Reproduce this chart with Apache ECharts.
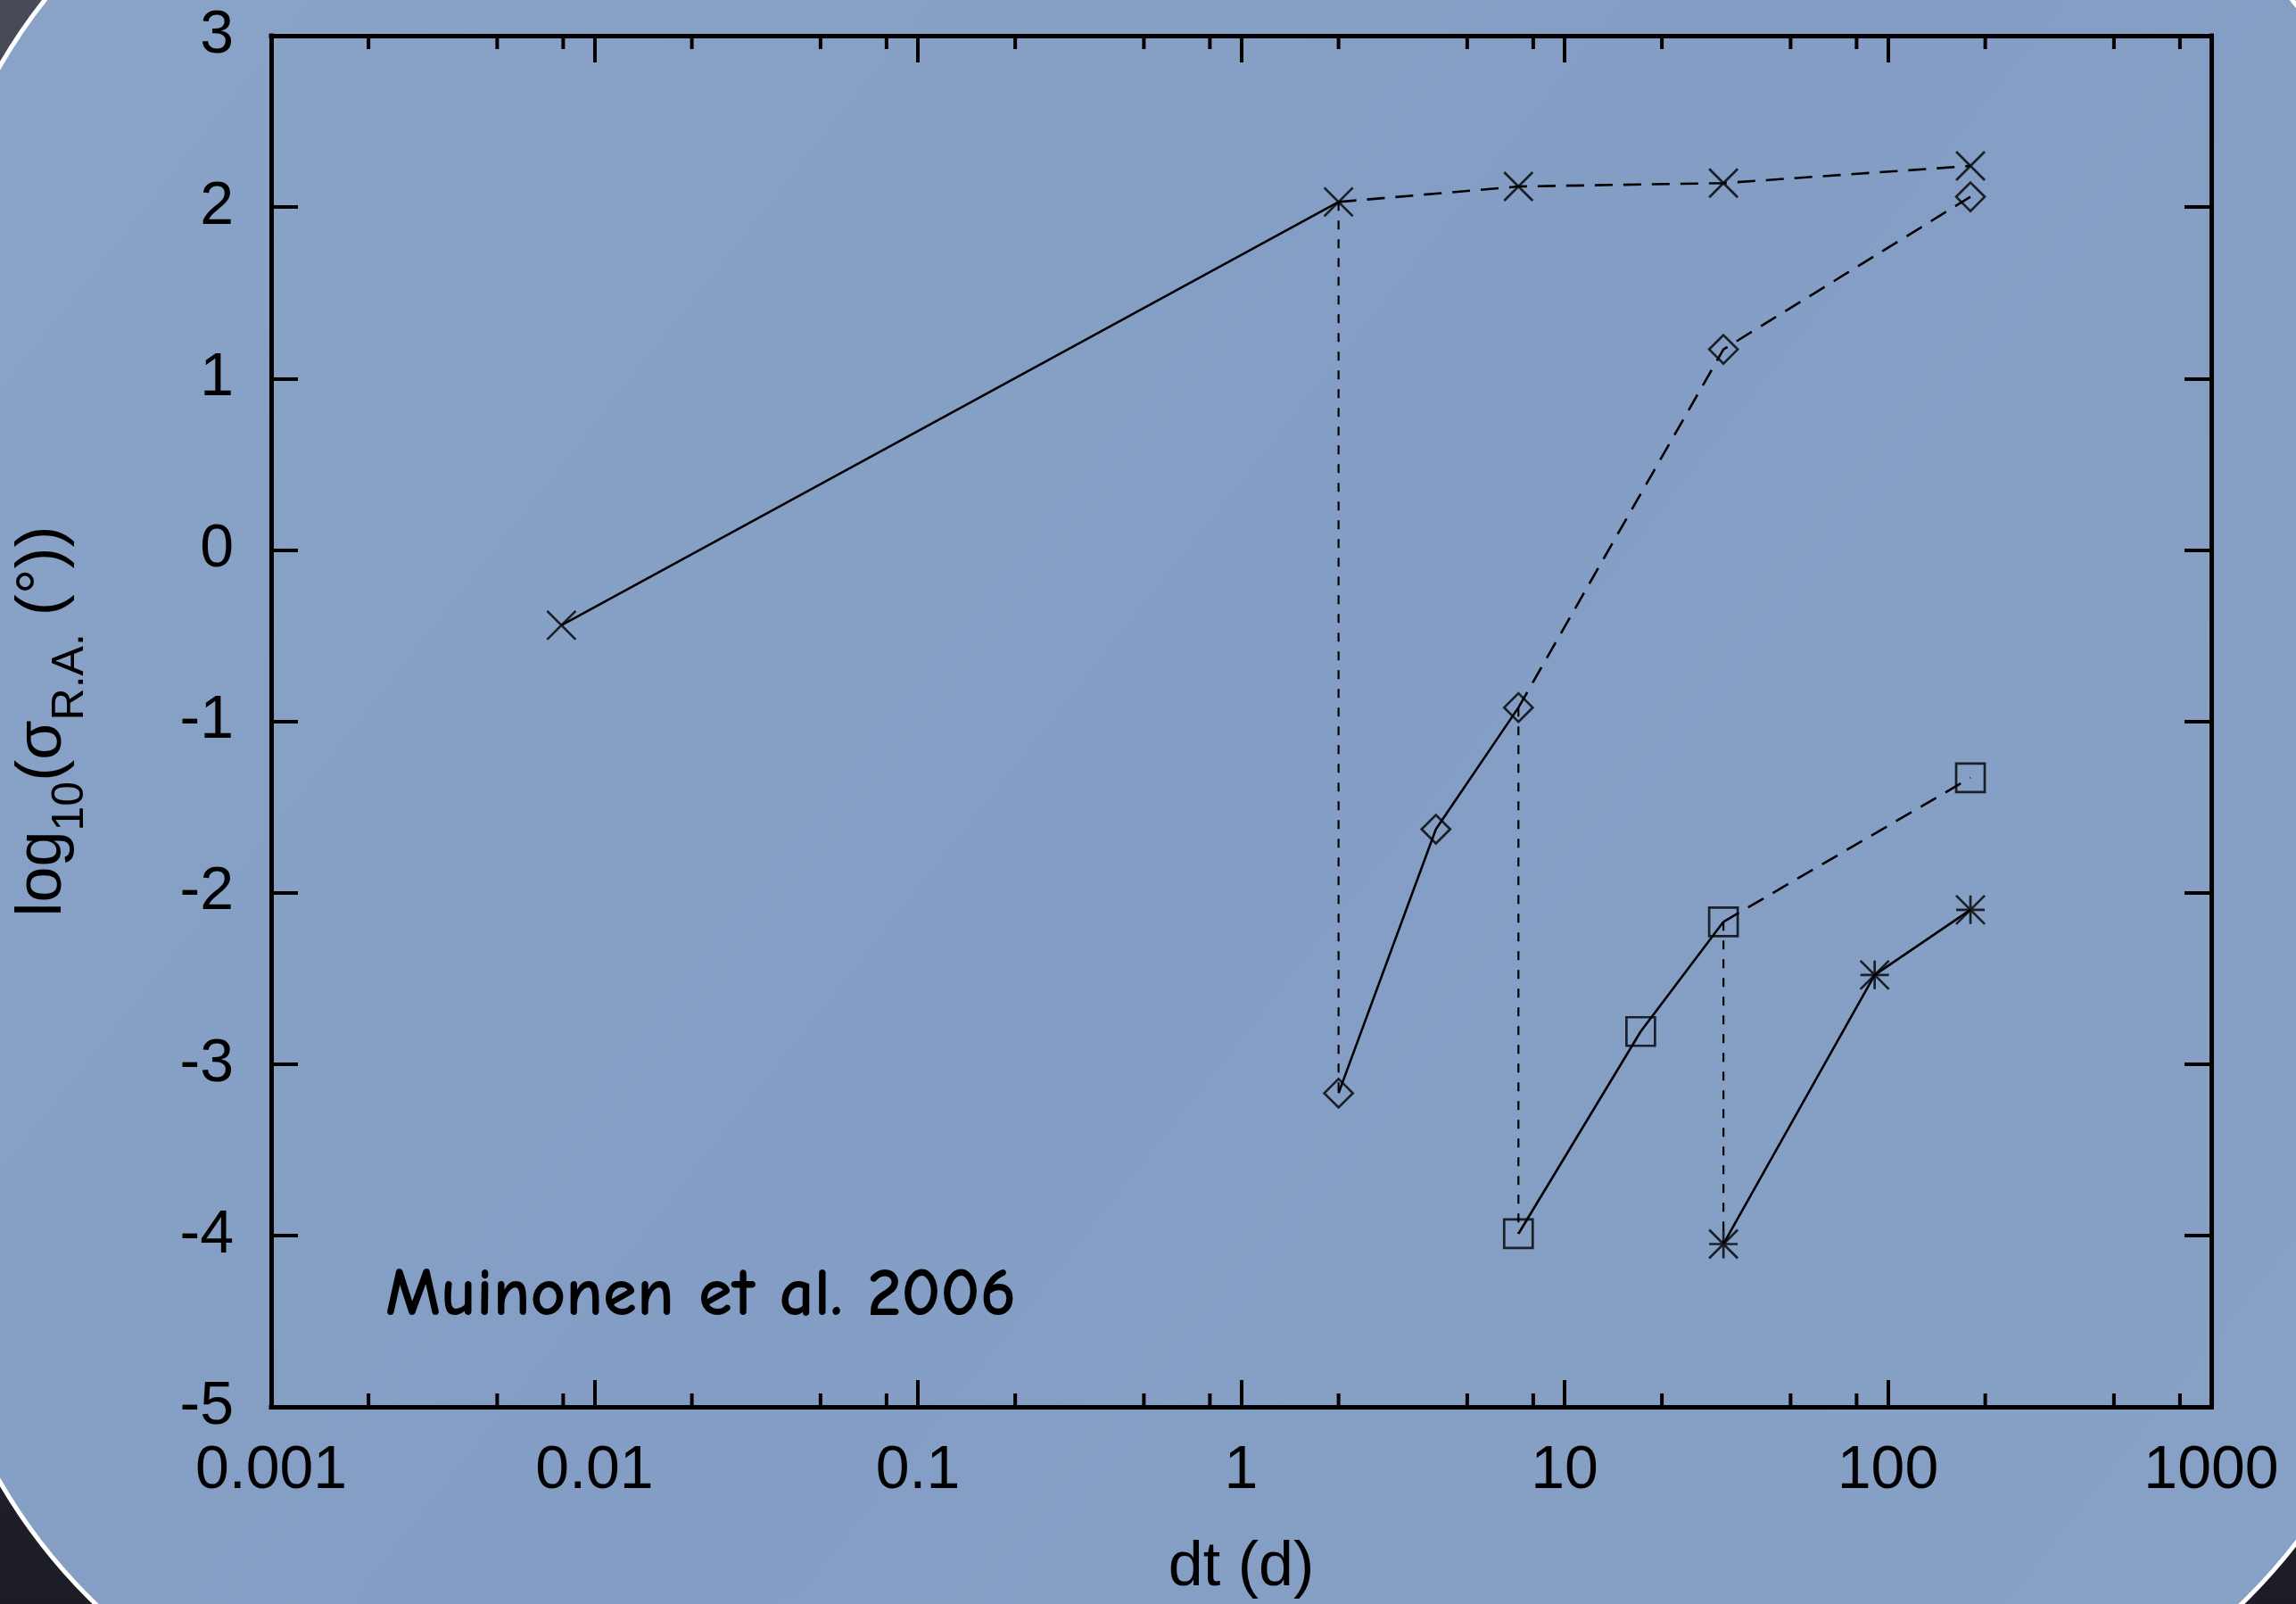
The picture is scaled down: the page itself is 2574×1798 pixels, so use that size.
<!DOCTYPE html>
<html>
<head>
<meta charset="utf-8">
<script src="https://cdn.jsdelivr.net/npm/echarts@6/dist/echarts.min.js"></script>
<style>
  html, body { margin: 0; padding: 0; width: 2574px; height: 1798px; overflow: hidden;
    background: linear-gradient(180deg, #484b58 0%, #30323d 45%, #1c1c26 100%); }
  #chart { width: 2574px; height: 1798px; }
</style>
</head>
<body>
<div id="chart"></div>
<script>
// dt (days) and log10 of the R.A. uncertainty for each observing-arc family
const dtCross = [0.0079, 2, 7.2, 31, 180];
const logCross = [-0.44, 2.03, 2.12, 2.14, 2.24];
const dtDiamond = [2, 4, 7.2, 31, 180];
const logDiamond = [-3.17, -1.63, -0.92, 1.17, 2.06];
const dtSquare = [7.2, 17.2, 31, 180];
const logSquare = [-3.99, -2.81, -2.17, -1.33];
const dtStar = [31, 91, 180];
const logStar = [-4.05, -2.48, -2.10];

// index of the last point joined by a solid segment; later points are dashed
const solidEnd = { cross: 1, diamond: 2, square: 2, star: 2 };

const xTickLabels = ['0.001', '0.01', '0.1', '1', '10', '100', '1000'];
const yTickLabels = ['-5', '-4', '-3', '-2', '-1', '0', '1', '2', '3'];
const minorTickValues = [0.002, 0.005, 0.008, 0.02, 0.05, 0.08, 0.2, 0.5, 0.8,
                         2, 5, 8, 20, 50, 80, 200, 500, 800];

const FONT = "'Liberation Sans', Arial, Helvetica, sans-serif";
const INK = '#000';

function pts(xs, ys, from, to) {
  const out = [];
  for (let i = from; i <= to; i++) out.push([xs[i], ys[i]]);
  return out;
}

function lineSeries(data, dashed) {
  return {
    type: 'line', data: data, symbol: 'none', silent: true, z: 3,
    lineStyle: { color: INK, width: 2.6, type: dashed ? [20, 12] : 'solid' }
  };
}

function connector(x, yTop, yBottom) {
  return {
    type: 'line', data: [[x, yTop], [x, yBottom]], symbol: 'none', silent: true, z: 3,
    lineStyle: { color: INK, width: 2.2, type: [10, 11] }
  };
}

function markerSeries(xs, ys, symbol, size) {
  return {
    type: 'scatter', data: pts(xs, ys, 0, xs.length - 1), symbol: symbol, symbolSize: size,
    silent: true, z: 4,
    itemStyle: { color: 'rgba(0,0,0,0)', borderColor: INK, borderWidth: 2.7 }
  };
}

const crossPath = 'path://M0,0L10,10M10,0L0,10';
const starPath = 'path://M0,5L10,5M5,0L5,10M0,0L10,10M10,0L0,10';

function xAxisDef(pos) {
  return {
    type: 'log', logBase: 10, min: 0.001, max: 1000, position: pos,
    axisLine: { show: true, onZero: false, lineStyle: { color: INK, width: 5, cap: 'square' } },
    axisTick: { show: true, inside: true, length: 30, lineStyle: { color: INK, width: 4 } },
    axisLabel: {
      show: pos === 'bottom', fontSize: 68, color: INK, fontFamily: FONT, margin: 38,
      formatter: v => xTickLabels[Math.round(Math.log10(v)) + 3]
    },
    splitLine: { show: false }, minorTick: { show: false }
  };
}

function yAxisDef(pos) {
  return {
    type: 'value', min: -5, max: 3, interval: 1, position: pos,
    axisLine: { show: true, onZero: false, lineStyle: { color: INK, width: 5, cap: 'square' } },
    axisTick: { show: true, inside: true, length: 30, lineStyle: { color: INK, width: 4 } },
    axisLabel: {
      show: pos === 'left', fontSize: 68, color: INK, fontFamily: FONT, margin: 42,
      formatter: v => yTickLabels[Math.round(v) + 5]
    },
    splitLine: { show: false }
  };
}

const xBottom = Object.assign(xAxisDef('bottom'), {
  name: 'dt (d)', nameLocation: 'middle', nameGap: 146,
  nameTextStyle: { fontSize: 70, color: INK, fontFamily: FONT }
});
const yLeft = Object.assign(yAxisDef('left'), {
  name: '{m|log}{s|10}{m|(σ}{s|R.A.}{m| (°))}',
  nameLocation: 'middle', nameRotate: 90, nameGap: 158,
  nameTextStyle: {
    color: INK, fontFamily: FONT,
    rich: {
      m: { fontSize: 72, lineHeight: 72, verticalAlign: 'top', color: INK, fontFamily: FONT },
      s: { fontSize: 50, lineHeight: 134, color: INK, fontFamily: FONT }
    }
  }
});

const series = [
  lineSeries(pts(dtCross, logCross, 0, solidEnd.cross), false),
  lineSeries(pts(dtCross, logCross, solidEnd.cross, dtCross.length - 1), true),
  lineSeries(pts(dtDiamond, logDiamond, 0, solidEnd.diamond), false),
  lineSeries(pts(dtDiamond, logDiamond, solidEnd.diamond, dtDiamond.length - 1), true),
  lineSeries(pts(dtSquare, logSquare, 0, solidEnd.square), false),
  lineSeries(pts(dtSquare, logSquare, solidEnd.square, dtSquare.length - 1), true),
  lineSeries(pts(dtStar, logStar, 0, solidEnd.star), false),
  connector(dtDiamond[0], logCross[solidEnd.cross], logDiamond[0]),
  connector(dtSquare[0], logDiamond[solidEnd.diamond], logSquare[0]),
  connector(dtStar[0], logSquare[solidEnd.square], logStar[0]),
  markerSeries(dtCross, logCross, crossPath, 32),
  markerSeries(dtDiamond, logDiamond, 'diamond', 32),
  markerSeries(dtSquare, logSquare, 'rect', 32),
  markerSeries(dtStar, logStar, starPath, 32),
  {
    // minor ticks at 2, 5 and 8 within each decade, bottom and top edges
    type: 'custom', silent: true, z: 5,
    data: minorTickValues.map(v => [v, -5]),
    renderItem: function (params, api) {
      const x = api.coord([api.value(0), -5])[0];
      const cs = params.coordSys;
      const yb = cs.y + cs.height, yt = cs.y;
      const st = { stroke: INK, lineWidth: 4 };
      return {
        type: 'group', children: [
          { type: 'line', shape: { x1: x, y1: yb, x2: x, y2: yb - 15 }, style: st },
          { type: 'line', shape: { x1: x, y1: yt, x2: x, y2: yt + 15 }, style: st }
        ]
      };
    }
  }
];

const chart = echarts.init(document.getElementById('chart'), null, { renderer: 'canvas' });
chart.setOption({
  animation: false,
  backgroundColor: 'transparent',
  grid: { left: 304, right: 95, top: 40, bottom: 219, containLabel: false },
  xAxis: [xBottom, xAxisDef('top')],
  yAxis: [yLeft, yAxisDef('right')],
  graphic: [
    {
      type: 'rect', z: -100, silent: true,
      shape: { x: -85, y: -240, width: 2790, height: 2215, r: 630 },
      style: {
        fill: {
          type: 'linear', x: 0, y: 0, x2: 1, y2: 1,
          colorStops: [
            { offset: 0, color: '#8ba4c8' },
            { offset: 0.5, color: '#839dc4' },
            { offset: 1, color: '#88a1c6' }
          ]
        },
        stroke: '#ffffff', lineWidth: 5
      }
    },
    {
      type: 'text', z: 10, silent: true, x: 432, y: 1452,
      style: {
        text: 'Muinonen et al. 2006',
        font: "bold 77px 'Comic Sans MS', 'Comic Neue', Lato, sans-serif",
        fill: INK, align: 'left', verticalAlign: 'middle'
      }
    }
  ],
  series: series
});
</script>
</body>
</html>
